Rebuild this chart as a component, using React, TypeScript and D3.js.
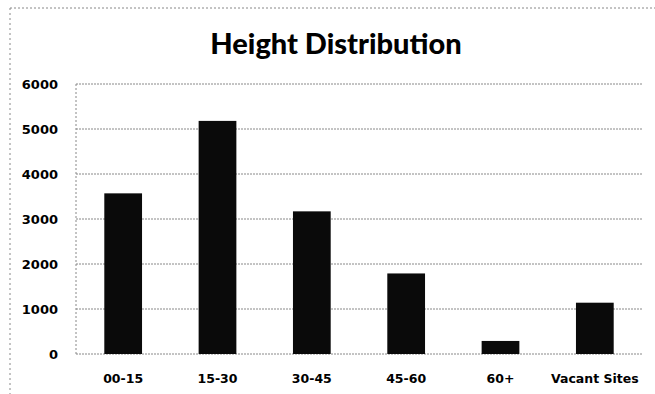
import React from "react";
import * as d3 from "d3";

const categories = ["00-15", "15-30", "30-45", "45-60", "60+", "Vacant Sites"];
const values = [3570, 5180, 3170, 1790, 290, 1140];
const yTicks = [0, 1000, 2000, 3000, 4000, 5000, 6000];
const title = "Height Distribution";

export default function App() {
  const W = 655, H = 394;
  const left = 76, right = 642, top = 84, bottom = 354;
  const x = d3.scaleBand<string>().domain(categories).range([left, right]).paddingInner(0.6).paddingOuter(0.3);
  const y = d3.scaleLinear().domain([0, 6000]).range([bottom, top]);
  const font = "'DejaVu Sans', sans-serif";
  return (
    <svg width={W} height={H} style={{ position: "absolute", left: 0, top: 0, background: "#fff" }}>
      <rect x={0} y={0} width={W} height={H} fill="#fff" />
      <line x1={10} x2={W} y1={8} y2={8} stroke="#888" strokeWidth={1} strokeDasharray="2,2" />
      <line x1={10} x2={10} y1={8} y2={H} stroke="#888" strokeWidth={1} strokeDasharray="2,3" />
      <text x={336} y={54} textAnchor="middle" fontFamily="Lato, sans-serif" fontWeight="900" fontSize={29} fill="#000">{title}</text>
      {yTicks.map((t) => (
        <g key={t}>
          <line x1={left} x2={right} y1={y(t)} y2={y(t)} stroke="#888" strokeWidth={1} strokeDasharray="2,1" />
          <text x={58} y={y(t)} dy="0.36em" textAnchor="end" fontFamily={font} fontWeight="bold" fontSize={13} fill="#000">{t}</text>
        </g>
      ))}
      <line x1={left} x2={left} y1={top} y2={bottom} stroke="#888" strokeWidth={1} strokeDasharray="2,2" />
      {categories.map((c, i) => (
        <g key={c}>
          <rect x={x(c)!} y={y(values[i])} width={x.bandwidth()} height={bottom - y(values[i])} fill="#0a0a0a" />
          <text x={x(c)! + x.bandwidth() / 2} y={383} textAnchor="middle" fontFamily={font} fontWeight="bold" fontSize={12.5} fill="#000">{c}</text>
        </g>
      ))}
    </svg>
  );
}
